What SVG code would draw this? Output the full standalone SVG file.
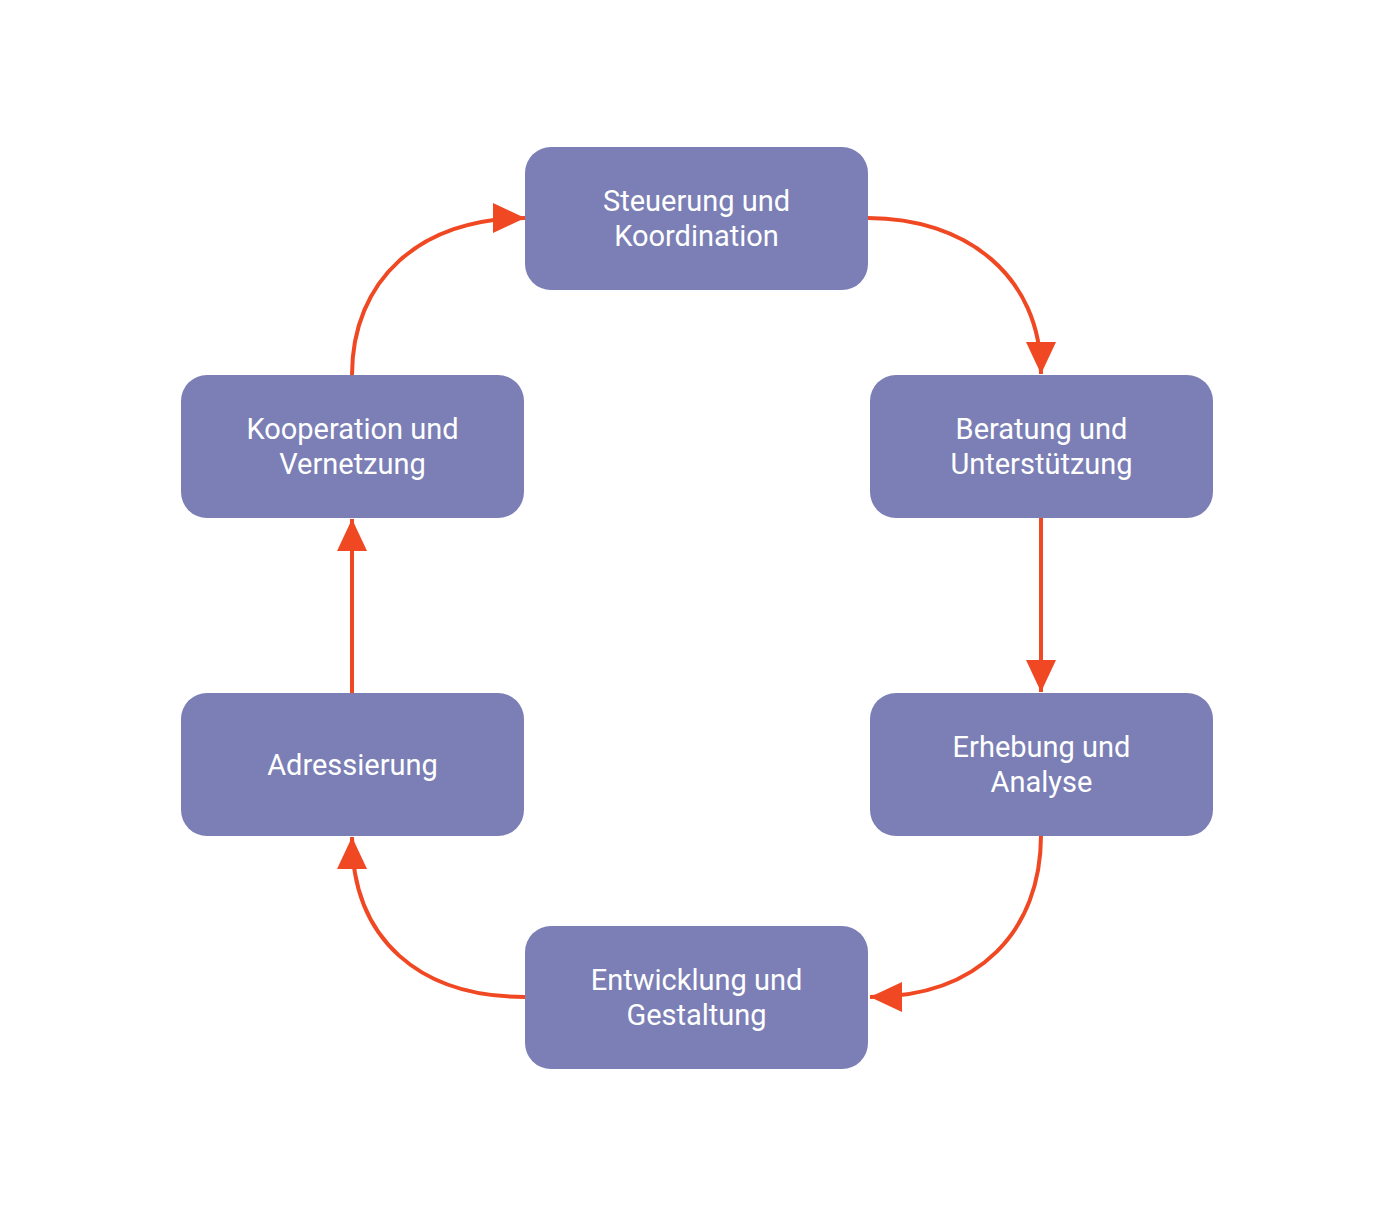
<svg xmlns="http://www.w3.org/2000/svg" width="1394" height="1216" viewBox="0 0 1394 1216">
<defs>
<style>
.node rect{fill:#7b7fb5;}
.node text{fill:#ffffff;font-family:Roboto,"Liberation Sans",sans-serif;font-size:29px;text-anchor:middle;}
.edge{fill:none;stroke:#f04823;stroke-width:4;}
</style>
<marker id="arr" viewBox="0 0 32 30" refX="32" refY="15" markerWidth="32" markerHeight="30" markerUnits="userSpaceOnUse" orient="auto">
<path d="M0 0 L32 15 L0 30 Z" fill="#f04823"/>
</marker>
</defs>
<rect width="1394" height="1216" fill="#ffffff"/>
<g id="connectors">
<path class="edge" d="M868 218 C965 218 1041 275 1041 374" marker-end="url(#arr)"/>
<path class="edge" d="M1041 517 L1041 692" marker-end="url(#arr)"/>
<path class="edge" d="M1041 835 C1041 930 980 997 870 997" marker-end="url(#arr)"/>
<path class="edge" d="M525 997 C420 997 352 940 352 837" marker-end="url(#arr)"/>
<path class="edge" d="M352 693 L352 519" marker-end="url(#arr)"/>
<path class="edge" d="M352 375 C352 280 420 218 525 218" marker-end="url(#arr)"/>
</g>
<g id="n-steuerung" class="node">
<rect x="525" y="147" width="343" height="143" rx="26"/>
<text x="696.5" y="211">Steuerung und</text>
<text x="696.5" y="246">Koordination</text>
</g>
<g id="n-beratung" class="node">
<rect x="870" y="375" width="343" height="143" rx="26"/>
<text x="1041.5" y="439">Beratung und</text>
<text x="1041.5" y="474">Unterstützung</text>
</g>
<g id="n-erhebung" class="node">
<rect x="870" y="693" width="343" height="143" rx="26"/>
<text x="1041.5" y="757">Erhebung und</text>
<text x="1041.5" y="792">Analyse</text>
</g>
<g id="n-entwicklung" class="node">
<rect x="525" y="926" width="343" height="143" rx="26"/>
<text x="696.5" y="990">Entwicklung und</text>
<text x="696.5" y="1025">Gestaltung</text>
</g>
<g id="n-adressierung" class="node">
<rect x="181" y="693" width="343" height="143" rx="26"/>
<text x="352.5" y="775">Adressierung</text>
</g>
<g id="n-kooperation" class="node">
<rect x="181" y="375" width="343" height="143" rx="26"/>
<text x="352.5" y="439">Kooperation und</text>
<text x="352.5" y="474">Vernetzung</text>
</g>
</svg>
